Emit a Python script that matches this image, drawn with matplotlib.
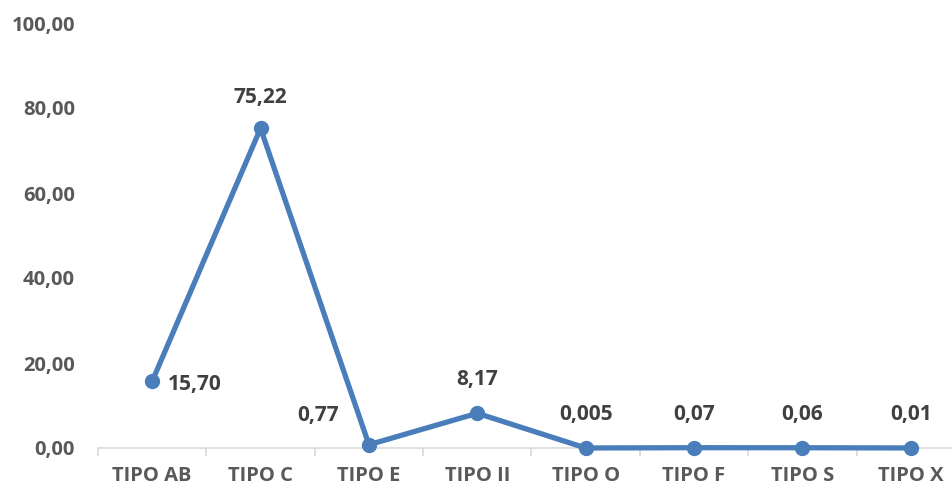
import numpy as np
import matplotlib.pyplot as plt

categorias = ["TIPO AB", "TIPO C", "TIPO E", "TIPO II", "TIPO O", "TIPO F", "TIPO S", "TIPO X"]
valores = [15.70, 75.22, 0.77, 8.17, 0.005, 0.07, 0.06, 0.01]
etiquetas = ["15,70", "75,22", "0,77", "8,17", "0,005", "0,07", "0,06", "0,01"]
yticks = [0, 20, 40, 60, 80, 100]

plt.rcParams['font.family'] = ['Open Sans', 'DejaVu Sans']
cinza = '#595959'
azul = '#4a7ebb'

fig = plt.figure(figsize=(9.53, 4.88), dpi=100)
ax = fig.add_axes([98/953, 40/488, 867/953, 425/488])

x = np.arange(len(categorias))
ax.plot(x, valores, color=azul, lw=3.8, marker='o', ms=10, solid_capstyle='round', zorder=3, clip_on=False)

# etiquetas dos pontos
for i, (v, t) in enumerate(zip(valores, etiquetas)):
    if i == 0:
        ax.annotate(t, (i, v), xytext=(11, -2), textcoords='offset points', ha='left', va='center',
                    fontsize=15, fontweight='bold', color='#404040')
    elif i == 2:
        ax.annotate(t, (i, v), xytext=(-22, 21), textcoords='offset points', ha='right', va='center',
                    fontsize=15, fontweight='bold', color='#404040')
    elif i == 1:
        ax.annotate(t, (i, v), xytext=(0, 22), textcoords='offset points', ha='center', va='center',
                    fontsize=15, fontweight='bold', color='#404040')
    else:
        ax.annotate(t, (i, v), xytext=(0, 24), textcoords='offset points', ha='center', va='center',
                    fontsize=15, fontweight='bold', color='#404040')

ax.set_xlim(-0.5, len(categorias) - 0.5)
ax.set_ylim(0, 100)
ax.set_yticks(yticks)
ax.set_yticklabels([f"{v:.2f}".replace('.', ',') for v in yticks])
ax.set_xticks(x)
ax.set_xticklabels(categorias)
ax.set_xticks(np.arange(-0.5, len(categorias), 1), minor=True)

for s in ['top', 'right', 'left']:
    ax.spines[s].set_visible(False)
ax.spines['bottom'].set_color('#d9d9d9')
ax.spines['bottom'].set_linewidth(1.2)

ax.tick_params(axis='y', length=0, pad=16.5, labelsize=14.5, labelcolor=cinza)
ax.tick_params(axis='x', which='major', length=0, pad=13, labelsize=14.5, labelcolor=cinza)
ax.tick_params(axis='x', which='minor', length=6, color='#d9d9d9', width=1.2)
for lab in ax.get_xticklabels() + ax.get_yticklabels():
    lab.set_fontweight('bold')

fig.savefig('out.png', dpi=100)
